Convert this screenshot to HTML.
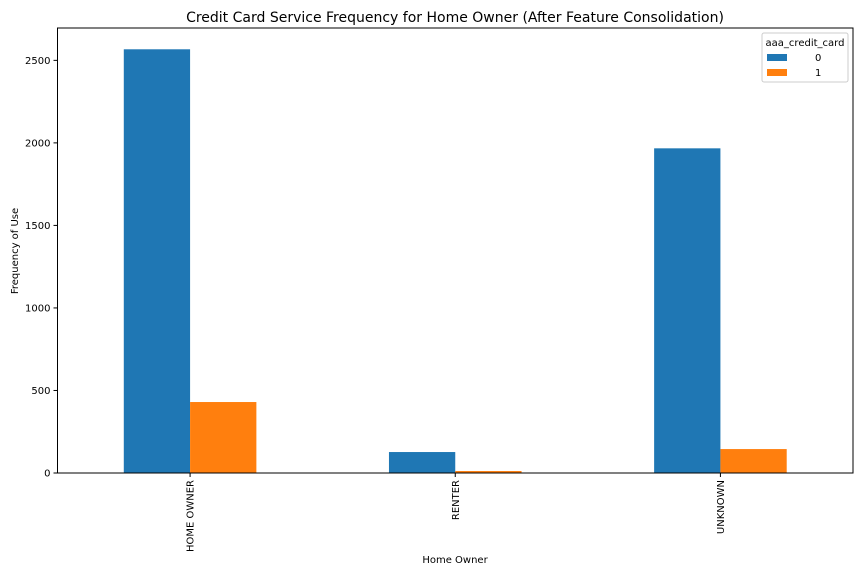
<!DOCTYPE html>
<html><head><meta charset="utf-8"><style>
body{margin:0;background:#fff;font-family:"Liberation Sans","DejaVu Sans",sans-serif;}
svg text{font-family:"DejaVu Sans","Liberation Sans",sans-serif;}
</style></head><body>
<svg id="chart" width="864" height="576" xmlns="http://www.w3.org/2000/svg">
<text x="455" y="22" font-size="14" text-anchor="middle" fill="#000">Credit Card Service Frequency for Home Owner (After Feature Consolidation)</text>
<g id="bars"></g>
<g id="axes"></g>
<text x="455" y="563" font-size="10" text-anchor="middle">Home Owner</text>
<text transform="translate(18,251) rotate(-90)" font-size="10" text-anchor="middle">Frequency of Use</text>
<g>
<rect x="762" y="33" width="86" height="49" fill="#fff" stroke="#ccc" rx="2"/>
<text x="805" y="46" font-size="10" text-anchor="middle">aaa_credit_card</text>
<rect x="767" y="54" width="20" height="7" fill="#1f77b4"/>
<text x="815" y="61" font-size="10">0</text>
<rect x="767" y="69" width="20" height="7" fill="#ff7f0e"/>
<text x="815" y="76" font-size="10">1</text>
</g>
</svg>
<script>
const categories=["HOME OWNER","RENTER","UNKNOWN"];
const series0=[2567,127,1967];
const series1=[430,12,145];
const yTicks=[0,500,1000,1500,2000,2500];
const L=57.5,R=853,T=28,B=473,yMax=2696;
const ns="http://www.w3.org/2000/svg";
const y=v=>B-(v/yMax)*(B-T);
const step=(R-L)/categories.length;
const xc=i=>L+step*(i+0.5);
const bw=step*0.25;
const bars=document.getElementById('bars'),axes=document.getElementById('axes');
function mk(t,a,p){const e=document.createElementNS(ns,t);for(const k in a)e.setAttribute(k,a[k]);p.appendChild(e);return e;}
categories.forEach((c,i)=>{
 const b0=mk('rect',{x:xc(i)-bw,y:y(series0[i]),width:bw,height:B-y(series0[i]),fill:'#1f77b4'},bars);
 
 
 const b1=mk('rect',{x:xc(i),y:y(series1[i]),width:bw,height:B-y(series1[i]),fill:'#ff7f0e'},bars);
 
 
 mk('line',{x1:xc(i),x2:xc(i),y1:B,y2:B+4,stroke:'#000'},axes);
 const t=mk('text',{transform:`translate(${xc(i)+3.5},${B+7}) rotate(-90)`,'font-size':10,'text-anchor':'end'},axes);
 t.textContent=c;
 
 
});
yTicks.forEach(v=>{
 mk('line',{x1:L-4,x2:L,y1:y(v),y2:y(v),stroke:'#000'},axes);
 const t=mk('text',{x:L-7,y:y(v)+3.5,'font-size':10,'text-anchor':'end'},axes);
 t.textContent=v;
 
 
});
const fr=mk('rect',{x:L,y:T,width:R-L,height:B-T,fill:'none',stroke:'#000','stroke-width':1},axes);


</script>
</body></html>
